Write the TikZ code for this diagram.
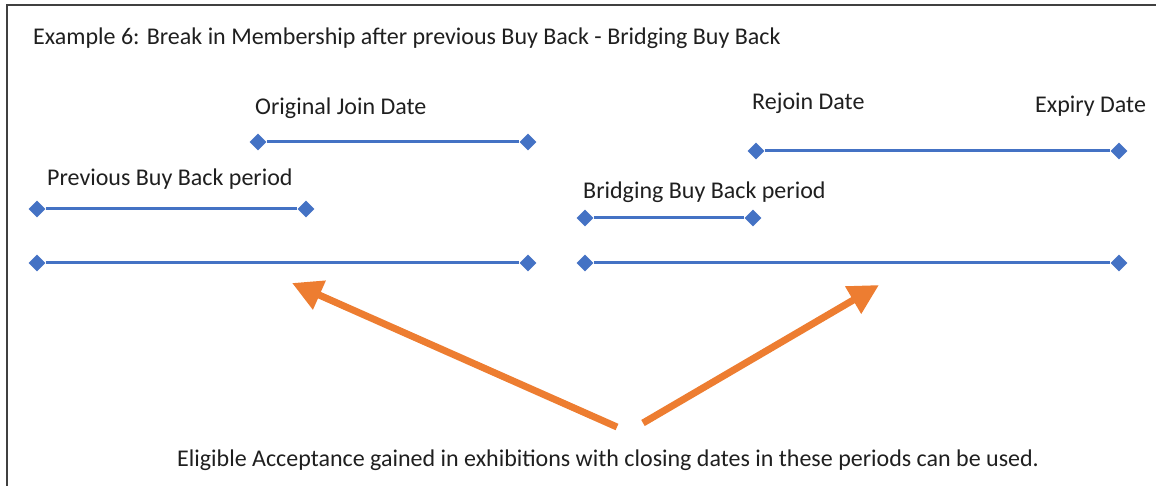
\documentclass[tikz,border=0pt]{standalone}
\usepackage{fontspec}
\setmainfont{Carlito}
\usetikzlibrary{shapes.geometric,arrows.meta}
\definecolor{lineblue}{HTML}{4472C4}
\definecolor{arroworange}{HTML}{ED7D31}
\definecolor{framegray}{HTML}{404040}
\tikzset{
  endpt/.style={diamond,fill=lineblue,draw=none,inner sep=0pt,minimum size=17pt},
  period/.style={draw=lineblue,line width=3pt},
  lbl/.style={anchor=base west,inner sep=0pt,font=\fontsize{24}{28}\selectfont,text=black!88},
  bigarrow/.style={draw=arroworange,line width=7pt,-{Triangle[length=30pt,width=30pt]}},
  frame/.style={draw=framegray,line width=2pt}
}
\begin{document}
\begin{tikzpicture}[x=1pt,y=-1pt]
\useasboundingbox (0,0) rectangle (1156,486);
% frame (top and left edges only)
\coordinate (fbl) at (7,487);
\coordinate (ftl) at (7,5);
\coordinate (ftr) at (1157,5);
\draw[frame] (fbl) -- (ftl) -- (ftr);
% texts
\node[lbl] (title) at (33,45) {Example 6: Break in Membership after previous Buy Back - Bridging Buy Back};
\node[lbl] (ojd) at (255,114.5) {Original Join Date};
\node[lbl] (pbb) at (47,186) {Previous Buy Back period};
\node[lbl] (rjd) at (752,110) {Rejoin Date};
\node[lbl] (exd) at (1035,113) {Expiry Date};
\node[lbl] (bbb) at (583,199) {Bridging Buy Back period};
\node[lbl] (foot) at (177,466) {Eligible Acceptance gained in exhibitions with closing dates in these periods can be used.};
% endpoints
\node[endpt] (o1) at (258,142) {};
\node[endpt] (o2) at (528,142) {};
\node[endpt] (p1) at (37,209) {};
\node[endpt] (p2) at (306,209) {};
\node[endpt] (l1) at (37,263) {};
\node[endpt] (l2) at (528,263) {};
\node[endpt] (r1) at (756,151) {};
\node[endpt] (r2) at (1119,151) {};
\node[endpt] (b1) at (585,218) {};
\node[endpt] (b2) at (753,218) {};
\node[endpt] (m1) at (585,263) {};
\node[endpt] (m2) at (1119,263) {};
% periods
\draw[period] (o1) -- (o2);
\draw[period] (p1) -- (p2);
\draw[period] (l1) -- (l2);
\draw[period] (r1) -- (r2);
\draw[period] (b1) -- (b2);
\draw[period] (m1) -- (m2);
% arrows
\coordinate (at1) at (617,427);
\coordinate (ah1) at (292,283);
\coordinate (at2) at (643,423);
\coordinate (ah2) at (879,285);
\draw[bigarrow] (at1) -- (ah1);
\draw[bigarrow] (at2) -- (ah2);
\end{tikzpicture}
\end{document}
